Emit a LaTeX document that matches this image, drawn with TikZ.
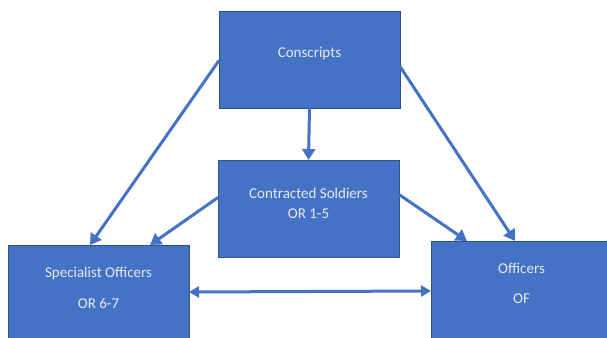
\documentclass[tikz,border=0pt]{standalone}
\usepackage{fontspec}
\setmainfont{Carlito}
\usetikzlibrary{arrows.meta}
\definecolor{boxblue}{HTML}{4472C4}
\definecolor{boxedge}{HTML}{2F528F}
\definecolor{txtgrey}{HTML}{E6EAF2}
\tikzset{
  box/.style={draw=boxedge, line width=0.8pt, fill=boxblue, minimum width=181pt, inner sep=0pt, outer sep=0pt},
  lbl/.style={text=txtgrey, font=\fontsize{15}{20}\selectfont, align=center, inner sep=0pt},
  conn/.style={draw=boxblue, line width=3pt, -{Triangle[length=11pt,width=13pt]}},
  conn2/.style={draw=boxblue, line width=3pt, {Triangle[length=10pt,width=11pt]}-{Triangle[length=10pt,width=11pt]}}
}
\begin{document}
\begin{tikzpicture}[x=1pt,y=-1pt]
\useasboundingbox (0,0) rectangle (607,337);
\clip (0,0) rectangle (607,337);
\fill[white] (0,0) rectangle (607,337);
\node[box, minimum height=97pt] (con) at (309.5,59.5) {};
\node[box, minimum height=97pt] (ctr) at (308.5,208.5) {};
\node[box, minimum height=100pt] (spec) at (98.5,295) {};
\node[box, minimum height=100pt, minimum width=185pt] (off) at (523.5,291) {};
\node[lbl] (tcon) at (309.5,54) {Conscripts};
\node[lbl] (tctr) at (308.5,203) {Contracted Soldiers\\OR 1-5};
\node[lbl] (tspec1) at (98.5,273) {Specialist Officers};
\node[lbl] (tspec2) at (98.5,303) {OR 6-7};
\node[lbl] (toff1) at (521.5,268) {Officers};
\node[lbl] (toff2) at (521.5,299) {OF};
\draw[conn] ([yshift=-1pt]con.west) -- ([xshift=-8.5pt]spec.north);
\draw[conn] ([yshift=11pt]ctr.west) -- ([xshift=51.5pt]spec.north);
\draw[conn] (con.south) -- (ctr.north);
\draw[conn] ([yshift=-7pt]con.east) -- ([xshift=-8.5pt]off.north);
\draw[conn] ([yshift=14pt]ctr.east) -- ([xshift=-56.5pt]off.north);
\draw[conn2] ([yshift=3pt]spec.east) -- (off.west);
\end{tikzpicture}
\end{document}
